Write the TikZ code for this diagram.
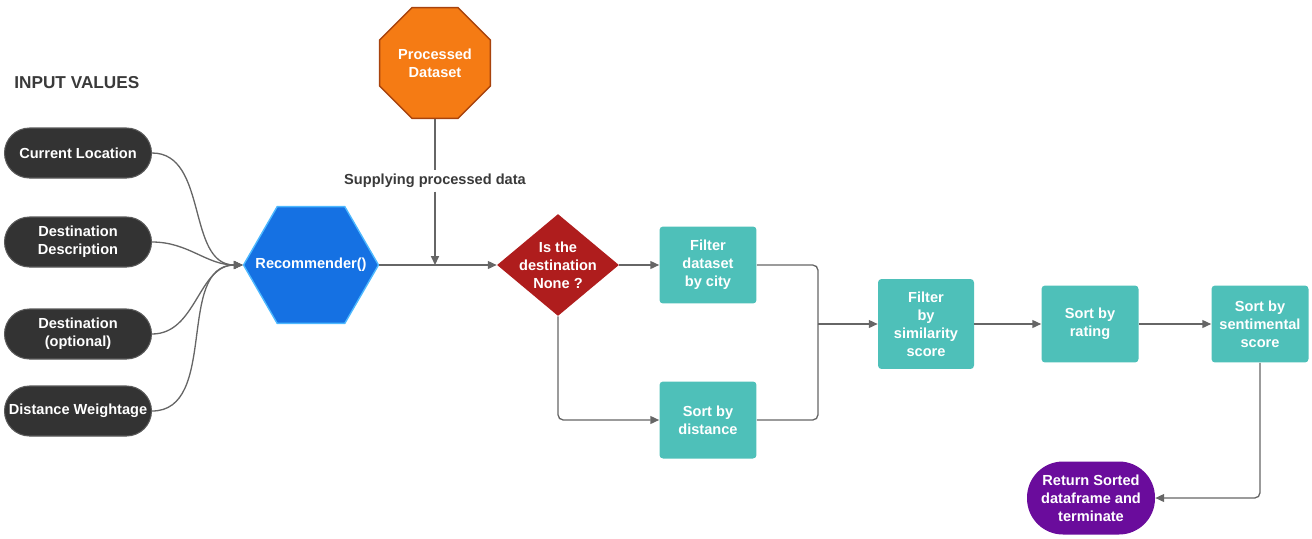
\documentclass[tikz,border=0pt]{standalone}
\usepackage{tikz}
\usepackage{xcolor}
\usepackage{fontspec}
\setmainfont{Liberation Sans}
\usetikzlibrary{shapes.geometric, arrows.meta}

\definecolor{pillgray}{HTML}{333333}
\definecolor{pillborder}{HTML}{5A5A5A}
\definecolor{recblue}{HTML}{1571E3}
\definecolor{recedge}{HTML}{4DB8FF}
\definecolor{dataorange}{HTML}{F57B14}
\definecolor{dataedge}{HTML}{A8430C}
\definecolor{decred}{HTML}{AF1D1D}
\definecolor{stepteal}{HTML}{4EC0B9}
\definecolor{endpurple}{HTML}{6A0C9C}
\definecolor{linegray}{HTML}{666666}
\definecolor{titlegray}{HTML}{3A3A3A}

\tikzset{
  txt/.style={font=\fontsize{8.3}{10.2}\selectfont\bfseries, text=white, align=center},
  inputpill/.style={txt, draw=pillborder, fill=pillgray, line width=0.6pt,
    rounded corners=0.5cm, minimum width=2.94cm, minimum height=1cm, inner sep=0pt},
  hexbox/.style={regular polygon, regular polygon sides=6, fill=recblue, draw=recedge,
    line width=0.8pt, minimum size=2.7cm, inner sep=0pt},
  octbox/.style={regular polygon, regular polygon sides=8, fill=dataorange, draw=dataedge,
    line width=0.8pt, minimum size=2.4cm, inner sep=0pt},
  decision/.style={diamond, fill=decred, minimum width=2.44cm, minimum height=2.04cm, inner sep=0pt},
  stepbox/.style={txt, fill=stepteal, rounded corners=2pt, minimum width=1.94cm,
    minimum height=1.54cm, inner sep=0pt},
  endpill/.style={txt, fill=endpurple, rounded corners=0.72cm, minimum width=2.56cm,
    minimum height=1.46cm, inner sep=0pt},
  flow/.style={draw=linegray, line width=0.75pt, rounded corners=3pt},
  tip/.style={-{Triangle[length=5pt,width=4.5pt]}},
}

\begin{document}
\begin{tikzpicture}[x=0.02cm, y=-0.02cm]
\useasboundingbox (0,0) rectangle (1312,538);

\node[anchor=west, inner sep=0pt, font=\fontsize{9.8}{12}\selectfont\bfseries, text=titlegray] (title) at (14,83) {INPUT VALUES};

\node[inputpill] (cur) at (78,153) {Current Location};
\node[inputpill] (desc) at (78,242) {Destination\\Description};
\node[inputpill] (dest) at (78,334) {Destination\\(optional)};
\node[inputpill] (wgt) at (78,411) {Distance Weightage};

\node[hexbox] (rec) at (311,265) {};
\node[txt] (rectext) at (rec) {Recommender()};

\node[octbox] (data) at (435,63) {};
\node[txt] (datatext) at (data) {Processed\\Dataset};
\node[txt, text=titlegray, fill=white, inner sep=2pt] (supply) at (435,181) {Supplying processed data};
\coordinate (tap) at (435,265);

\node[decision] (dec) at (558,265) {};
\node[txt] (dectext) at (dec) {Is the\\destination\\None ?};

\node[stepbox] (city) at (708,265) {Filter\\dataset\\by city};
\node[stepbox] (dist) at (708,420) {Sort by\\distance};
\coordinate (merge) at (818,324);
\node[stepbox, minimum width=1.92cm, minimum height=1.8cm] (sim) at (926,324) {Filter\\by\\similarity\\score};
\node[stepbox] (rate) at (1090,324) {Sort by\\rating};
\node[stepbox] (sent) at (1260,324) {Sort by\\sentimental\\score};
\node[endpill] (done) at (1091,498) {Return Sorted\\dataframe and\\terminate};

\draw[flow,tip] (cur.east) to[out=0, in=180] (rec.west);
\draw[flow,tip] (desc.east) to[out=0, in=180] (rec.west);
\draw[flow,tip] (dest.east) to[out=0, in=180] (rec.west);
\draw[flow,tip] (wgt.east) to[out=0, in=180] (rec.west);

\draw[flow,tip] (rec.east) -- (dec.west);
\draw[flow] (data.south) -- (supply.north);
\draw[flow,tip] (supply.south) -- (tap);

\draw[flow,tip] (dec.east) -- (city.west);
\draw[flow,tip] (dec.south) |- (dist.west);
\draw[flow] (city.east) -| (merge);
\draw[flow] (dist.east) -| (merge);
\draw[flow,tip] (merge) -- (sim.west);
\draw[flow,tip] (sim.east) -- (rate.west);
\draw[flow,tip] (rate.east) -- (sent.west);
\draw[flow,tip] (sent.south) |- (done.east);
\end{tikzpicture}
\end{document}
